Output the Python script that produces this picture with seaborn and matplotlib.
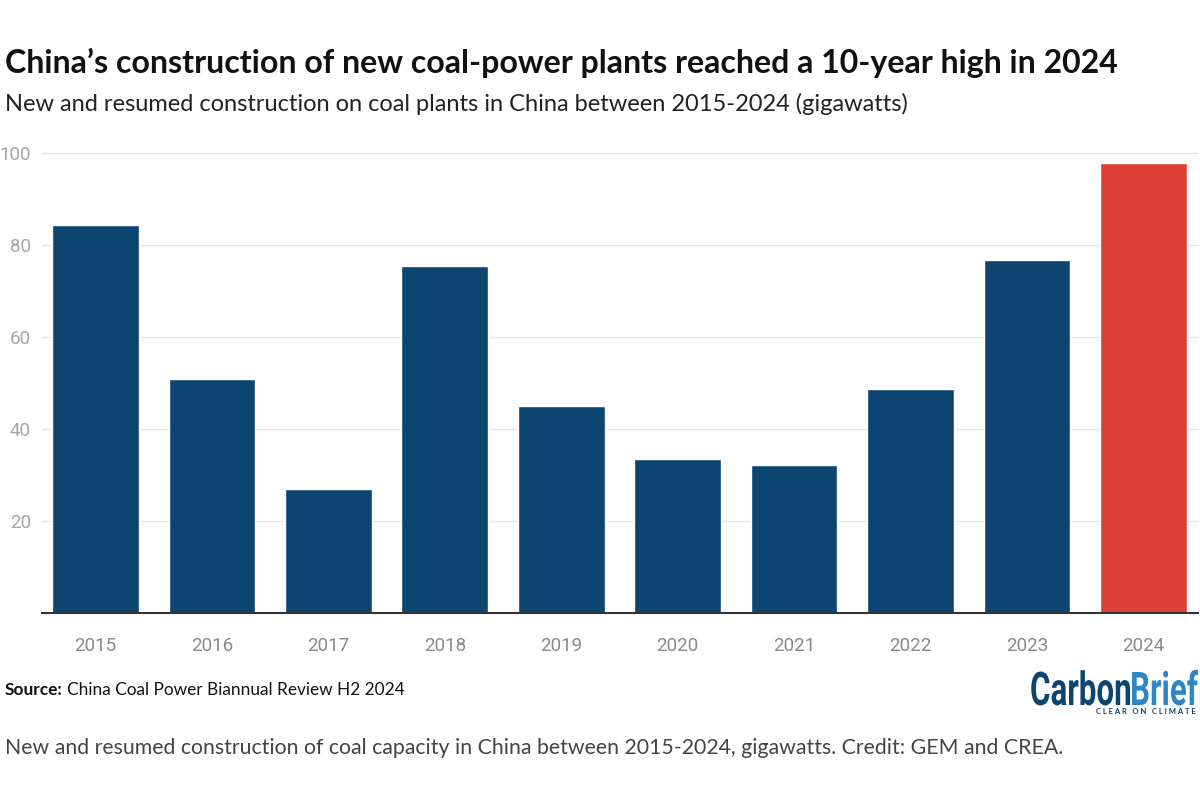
import matplotlib
matplotlib.use("Agg")
import matplotlib.pyplot as plt
import matplotlib.transforms as mtransforms
from matplotlib.textpath import TextPath
from matplotlib.patches import PathPatch
from matplotlib.font_manager import FontProperties
import seaborn as sns

years = ["2015", "2016", "2017", "2018", "2019", "2020", "2021", "2022", "2023", "2024"]
gigawatts = [84.3, 50.9, 27.0, 75.4, 45.0, 33.5, 32.2, 48.7, 76.7, 97.8]
y_ticks = [20, 40, 60, 80, 100]

BLUE = "#0d4571"
RED = "#dc3f33"
colors = [BLUE] * 9 + [RED]

title = "China\u2019s construction of new coal-power plants reached a 10-year high in 2024"
subtitle = "New and resumed construction on coal plants in China between 2015-2024 (gigawatts)"
source = "China Coal Power Biannual Review H2 2024"
caption = ("New and resumed construction of coal capacity in China between 2015-2024, "
           "gigawatts. Credit: GEM and CREA.")

sns.set_style("white")
plt.rcParams["font.family"] = ["Lato", "DejaVu Sans"]

W, H = 1200, 791
fig = plt.figure(figsize=(W / 100, H / 100), dpi=100)
ax = fig.add_axes([42 / W, 1 - 613 / H, 1156 / W, (613 - 153) / H])

sns.barplot(x=years, y=gigawatts, hue=years, palette=colors, legend=False,
            width=0.745, saturation=1, ax=ax, zorder=3)

ax.set_xlim(-0.46, 9.47)
ax.set_ylim(0, 100)
ax.set_yticks(y_ticks)
ax.yaxis.grid(True, color="#e6e6e6", linewidth=1, zorder=0)
ax.set_axisbelow(True)
for g in ax.get_ygridlines():
    g.set_clip_on(False)
for s in ["top", "right", "left"]:
    ax.spines[s].set_visible(False)
ax.spines["bottom"].set_color("#333333")
ax.spines["bottom"].set_linewidth(1.5)
ax.spines["bottom"].set_zorder(4)
ax.tick_params(axis="y", length=0, pad=8, labelsize=13.5, labelcolor="#a6a6a6")
ax.tick_params(axis="x", length=6, width=1.3, color="#333333", pad=11,
               labelsize=13.5, labelcolor="#8a8a8a")
for lab in ax.get_xticklabels() + ax.get_yticklabels():
    lab.set_family(["Roboto", "DejaVu Sans"])
ax.set_xlabel("")
ax.set_ylabel("")


def px(x, y):
    return x / W, 1 - y / H


fig.text(*px(5, 63), title, fontsize=23.1, fontweight="bold", color="#111111", va="center")
fig.text(*px(5, 104), subtitle, fontsize=17, color="#222222", va="center")
src = fig.text(*px(5, 690), "Source:", fontsize=12.4, fontweight="bold", color="#111111", va="center")
fig.canvas.draw()
bb = src.get_window_extent()
fig.text((bb.x1 + 4) / W, 1 - 690 / H, source, fontsize=12.4, color="#111111", va="center")
fig.text(*px(5, 748), caption, fontsize=15.3, color="#444444", va="center")

# logo
fp = FontProperties(family="Roboto", weight="bold")
size = 33 / 0.711
tp1 = TextPath((0, 0), "Carbon", size=size, prop=fp)
tp2 = TextPath((0, 0), "Brief", size=size, prop=fp)
w1 = tp1.get_extents().x1
w2 = tp2.get_extents().x1
sx = 168 / (w1 + w2)
x0, base = 1030, H - 705
fig.add_artist(PathPatch(tp1, color=BLUE, lw=0,
                         transform=mtransforms.Affine2D().scale(sx, 1).translate(x0, base)))
fig.add_artist(PathPatch(tp2, color="#2f86c6", lw=0,
                         transform=mtransforms.Affine2D().scale(sx, 1).translate(x0 + w1 * sx, base)))
fig.text(*px(1196, 712), "C L E A R   O N   C L I M A T E", fontsize=5.5, fontweight="bold",
         color=BLUE, ha="right", va="center")

fig.savefig("out.png", dpi=100)
